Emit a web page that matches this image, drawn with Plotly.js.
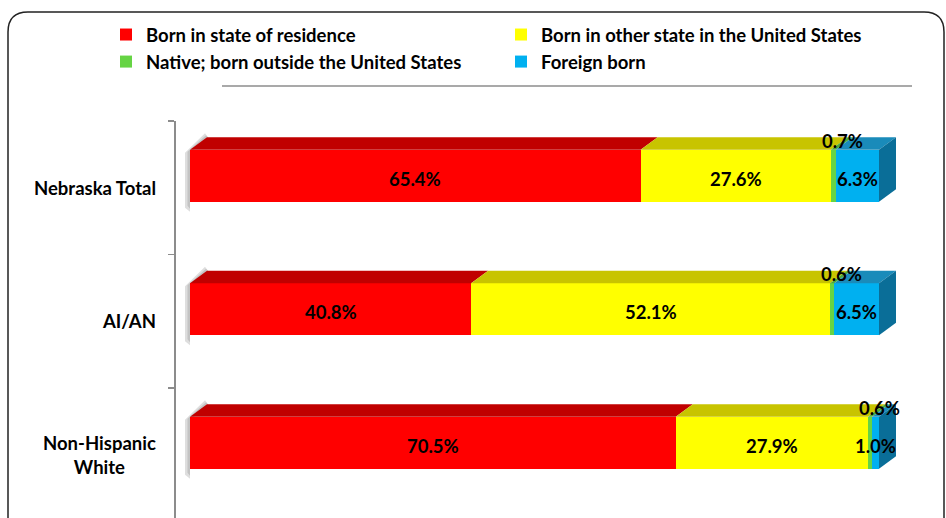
<!DOCTYPE html>
<html>
<head>
<meta charset="utf-8">
<script src="https://cdn.plot.ly/plotly-3.0.1.min.js"></script>
<style>
  html, body { margin: 0; padding: 0; background: #ffffff; }
  #chart { width: 946px; height: 518px; }
</style>
</head>
<body>
<div id="chart"></div>
<script>
// ---- data ----
const categories = ["Nebraska Total", "AI/AN", "Non-Hispanic White"];
const categoryLabels = ["Nebraska Total", "AI/AN", "Non-Hispanic<br>White"];
const seriesNames = [
  "Born in state of residence",
  "Born in other state in the United States",
  "Native; born outside the United States",
  "Foreign born"
];
const bornInState = [65.4, 40.8, 70.5];
const bornOtherState = [27.6, 52.1, 27.9];
const nativeBornOutside = [0.7, 0.6, 0.6];
const foreignBorn = [6.3, 6.5, 1.0];

// ---- styles ----
const frontColors = ["#FF0000", "#FFFF00", "#66D444", "#00B0F0"];
const topColors = ["#C00000", "#C8C400", "#4EA83A", "#1A8BBA"];
const sideColor = "#0A6E98";
const FONT = "Lato, 'Liberation Sans', Arial, sans-serif";
const FS = 18.5;

// ---- geometry (pixels) ----
const WIDTH = 946, HEIGHT = 518;
const ML = 176, MR = 16, MT = 121, MB = 0;
const PW = WIDTH - ML - MR, PH = HEIGHT - MT - MB;
const ZERO_PX = 190, FULL_PX = 879;           // where 0% and 100% sit
const pxPerX = (FULL_PX - ZERO_PX) / 100;
const xMin = -(ZERO_PX - ML) / pxPerX;
const xMax = xMin + PW / pxPerX;
const pxPerCat = 133.5;
const yMinR = -0.5, yMaxR = -0.5 + PH / pxPerCat;
const BAR_OFFSET = -38 / pxPerCat, BAR_WIDTH = 52 / pxPerCat;
const DX = 17 / pxPerX, DY = 12.5 / pxPerCat;

const series = [bornInState, bornOtherState, nativeBornOutside, foreignBorn];

const traces = series.map((vals, s) => ({
  type: "bar",
  orientation: "h",
  name: seriesNames[s],
  x: vals,
  y: categories,
  offset: BAR_OFFSET,
  width: BAR_WIDTH,
  marker: { color: frontColors[s], line: { width: 0 } },
  hoverinfo: "skip"
}));

const px2paperX = p => (p - ML) / PW;
const px2paperY = p => 1 - (p - MT) / PH;

const shapes = [];
const annotations = [];

categories.forEach((cat, i) => {
  const yt = i + BAR_OFFSET, yb = yt + BAR_WIDTH;
  // soft shadow on the left
  const sx = 5 / pxPerX;
  shapes.push({
    type: "path", xref: "x", yref: "y", layer: "below",
    path: `M ${-sx},${yt + 3 / pxPerCat} L ${DX - 2 / pxPerX},${yt - DY - 4 / pxPerCat} L ${DX + 1 / pxPerX},${yt - DY} L 0,${yt + 4 / pxPerCat} L 0,${yb + 10 / pxPerCat} L ${-sx},${yb + 6 / pxPerCat} Z`,
    fillcolor: "rgba(0,0,0,0.13)", line: { width: 0 }
  });
  shapes.push({
    type: "path", xref: "x", yref: "y", layer: "below",
    path: `M ${-sx * 0.5},${yt + 2 / pxPerCat} L ${DX - 1 / pxPerX},${yt - DY - 2 / pxPerCat} L ${DX + 1 / pxPerX},${yt - DY} L 0,${yt + 3 / pxPerCat} L 0,${yb + 7 / pxPerCat} L ${-sx * 0.5},${yb + 4 / pxPerCat} Z`,
    fillcolor: "rgba(0,0,0,0.12)", line: { width: 0 }
  });
  let a = 0;
  series.forEach((vals, s) => {
    const b = a + vals[i];
    // top face
    shapes.push({
      type: "path", xref: "x", yref: "y", layer: "above",
      path: `M ${a},${yt} L ${b},${yt} L ${b + DX},${yt - DY} L ${a + DX},${yt - DY} Z`,
      fillcolor: topColors[s], line: { width: 0 }
    });
    // value labels
    const label = vals[i].toFixed(1) + "%";
    if (s === 2) {
      annotations.push({
        x: (a + b) / 2, y: yt, xref: "x", yref: "y",
        text: label, showarrow: false, xshift: 9, yshift: 9,
        font: { family: FONT, size: FS, color: "#000", weight: 700 }
      });
    } else {
      annotations.push({
        x: (a + b) / 2, y: (yt + yb) / 2, xref: "x", yref: "y",
        text: label, showarrow: false, yshift: -3,
        font: { family: FONT, size: FS, color: "#000", weight: 700 }
      });
    }
    a = b;
  });
  // right side face
  shapes.push({
    type: "path", xref: "x", yref: "y", layer: "above",
    path: `M ${a},${yt} L ${a + DX},${yt - DY} L ${a + DX},${yb - DY} L ${a},${yb} Z`,
    fillcolor: sideColor, line: { width: 0 }
  });
  // category label
  annotations.push({
    x: px2paperX(158), y: i, xref: "paper", yref: "y",
    xanchor: "right", align: "center", text: categoryLabels[i], showarrow: false,
    font: { family: FONT, size: FS, color: "#000", weight: 700 }
  });
});

// top grey rule
shapes.push({
  type: "line", xref: "paper", yref: "paper", layer: "below",
  x0: px2paperX(222), x1: px2paperX(912), y0: px2paperY(86), y1: px2paperY(86),
  line: { color: "#8c8c8c", width: 1.5 }
});
// rounded outer border
(function () {
  const L = px2paperX(8), R = px2paperX(944), T = px2paperY(12), B = px2paperY(540);
  const rx = 20 / PW, ry = 20 / PH;
  shapes.push({
    type: "path", xref: "paper", yref: "paper", layer: "below",
    path: `M ${L},${B} L ${L},${T - ry} Q ${L},${T} ${L + rx},${T} L ${R - rx},${T} Q ${R},${T} ${R},${T - ry} L ${R},${B}`,
    line: { color: "#222", width: 1.5 }, fillcolor: "rgba(0,0,0,0)"
  });
})();

const layout = {
  width: WIDTH, height: HEIGHT,
  margin: { l: ML, r: MR, t: MT, b: MB, pad: 0 },
  paper_bgcolor: "#ffffff", plot_bgcolor: "#ffffff",
  barmode: "stack",
  showlegend: true,
  legend: {
    orientation: "h", xref: "paper", yref: "paper",
    x: px2paperX(106), y: px2paperY(16), xanchor: "left", yanchor: "top",
    entrywidth: 350, entrywidthmode: "pixels", traceorder: "normal",
    font: { family: FONT, size: FS, color: "#000", weight: 700 },
    bgcolor: "rgba(0,0,0,0)"
  },
  xaxis: { range: [xMin, xMax], visible: false, fixedrange: true },
  yaxis: {
    type: "category", categoryorder: "array", categoryarray: categories,
    range: [yMaxR, yMinR], tickson: "boundaries",
    ticks: "outside", ticklen: 6, tickcolor: "#8c8c8c", tickwidth: 1.5,
    showline: true, linecolor: "#8c8c8c", linewidth: 2,
    showgrid: false, showticklabels: false, zeroline: false, fixedrange: true
  },
  shapes: shapes,
  annotations: annotations
};

Plotly.newPlot("chart", traces, layout, { displayModeBar: false, staticPlot: true });
</script>
</body>
</html>
